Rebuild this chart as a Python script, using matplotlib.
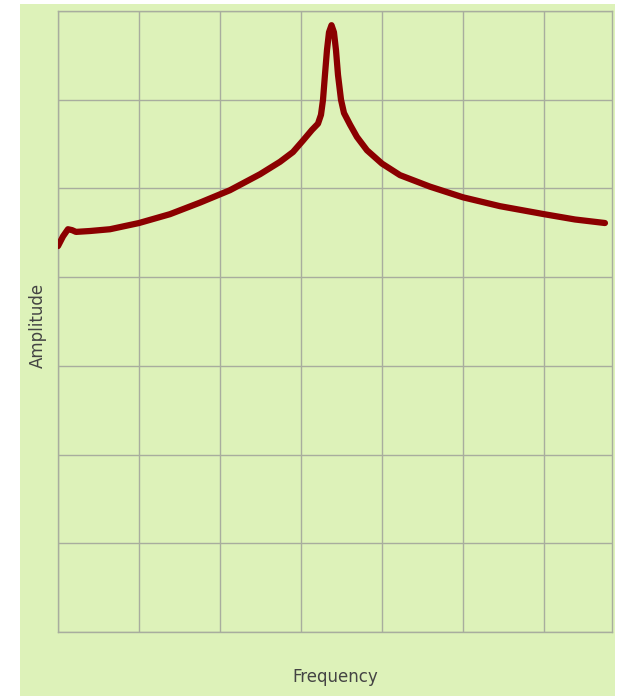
import matplotlib
matplotlib.use("Agg")
import matplotlib.pyplot as plt
from matplotlib.patches import Rectangle

freq = [0.0, 0.062, 0.123, 0.173, 0.222, 0.395, 0.642, 1.0, 1.383, 1.753, 2.123,
        2.494, 2.741, 2.901, 3.025, 3.136, 3.210, 3.247, 3.272, 3.296, 3.321, 3.346,
        3.377, 3.407, 3.432, 3.457, 3.494, 3.531, 3.605, 3.691, 3.815, 4.0, 4.222,
        4.593, 5.0, 5.457, 6.0, 6.383, 6.753]
amplitude = [4.35, 4.46, 4.54, 4.53, 4.51, 4.52, 4.54, 4.61, 4.71, 4.84, 4.98,
             5.16, 5.30, 5.41, 5.54, 5.66, 5.73, 5.83, 6.00, 6.28, 6.56, 6.76,
             6.84, 6.76, 6.56, 6.28, 6.00, 5.85, 5.72, 5.58, 5.43, 5.28, 5.15,
             5.02, 4.90, 4.80, 4.71, 4.65, 4.61]
x_grid = [0, 1, 2, 3, 4, 5, 6]
y_grid = [0, 1, 2, 3, 4, 5, 6, 7]

W, H = 619, 696
fig = plt.figure(figsize=(W / 100, H / 100), dpi=100)
fig.patch.set_facecolor("white")
bg = "#ddf2b9"
fig.patches.append(Rectangle((20 / W, 0), (615 - 20) / W, (696 - 4) / H,
                             transform=fig.transFigure, facecolor=bg,
                             edgecolor="none", zorder=-10))

ax = fig.add_axes([58 / W, (H - 632) / H, (612 - 58) / W, (632 - 11) / H])
ax.set_facecolor(bg)
ax.plot(freq, amplitude, color="#8b0000", lw=4.5, solid_capstyle="round",
        solid_joinstyle="round", zorder=3)
ax.set_xlim(0, 6.84)
ax.set_ylim(0, 7)
ax.set_xticks(x_grid)
ax.set_yticks(y_grid)
ax.grid(True, color="#a8ad9e", lw=1.0)
ax.tick_params(length=0, labelbottom=False, labelleft=False)
for s in ax.spines.values():
    s.set_color("#a8ad9e")
    s.set_linewidth(1.0)

fig.text(335 / W, 1 - 677 / H, "Frequency", ha="center", va="center",
         fontsize=12, color="#444444")
fig.text(38 / W, 1 - 325 / H, "Amplitude", ha="center", va="center",
         rotation=90, fontsize=12, color="#444444")

fig.savefig("out.png", dpi=100, facecolor="white")
